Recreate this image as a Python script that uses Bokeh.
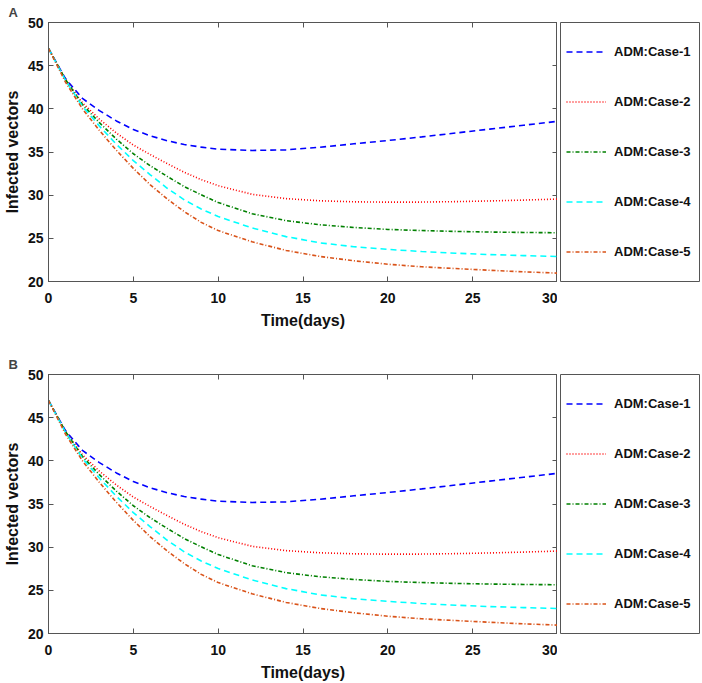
from bokeh.plotting import figure
from bokeh.layouts import column, row
from bokeh.models import (Legend, LegendItem, LinearAxis, Range1d, FixedTicker,
                          CustomJSTickFormatter)
from bokeh.embed import file_html
from bokeh.resources import INLINE

# ---- data ----
t = [0, 1, 2, 3, 4, 5, 6, 7, 8, 9, 10, 12, 14, 16, 18, 20, 22, 24, 26, 28, 30]
case1 = [47.0, 43.5, 41.2, 39.8, 38.6, 37.6, 36.88, 36.3, 35.87, 35.56, 35.33, 35.18,
         35.25, 35.55, 35.95, 36.33, 36.75, 37.2, 37.65, 38.1, 38.55]
case2 = [47.0, 43.4, 40.7, 38.8, 37.2, 35.8, 34.7, 33.65, 32.65, 31.8, 31.1, 30.1,
         29.6, 29.35, 29.23, 29.19, 29.2, 29.25, 29.33, 29.43, 29.55]
case3 = [47.0, 43.4, 40.5, 38.4, 36.5, 34.8, 33.4, 32.17, 31.0, 30.04, 29.15, 27.85,
         27.05, 26.57, 26.26, 26.03, 25.9, 25.8, 25.73, 25.68, 25.65]
case4 = [47.0, 43.3, 40.3, 38.0, 35.9, 34.0, 32.36, 30.8, 29.46, 28.4, 27.53, 26.2,
         25.2, 24.48, 24.03, 23.72, 23.47, 23.28, 23.12, 23.0, 22.9]
case5 = [47.0, 43.1, 40.0, 37.5, 35.2, 33.1, 31.2, 29.55, 28.1, 26.85, 25.9, 24.6,
         23.6, 22.9, 22.4, 22.0, 21.7, 21.5, 21.3, 21.12, 20.97]
series = [case1, case2, case3, case4, case5]
labels = ["ADM:Case-1", "ADM:Case-2", "ADM:Case-3", "ADM:Case-4", "ADM:Case-5"]
x_ticks = [0, 5, 10, 15, 20, 25, 30]
y_ticks = [20, 25, 30, 35, 40, 45, 50]
panels = ["A", "B"]

colors = ["#0000FF", "#FF0000", "#008000", "#00FFFF", "#D95319"]
dashes = ["6 4", "1 2", "4 2 1 2", "6 4", "4 2 1 2"]

FONT = "Liberation Sans"
FRAME = "#555555"
FW, FH = 509, 259


def style_axis(ax, ticks, show_labels=True):
    ax.ticker = FixedTicker(ticks=ticks)
    ax.axis_line_color = FRAME
    ax.major_tick_line_color = FRAME
    ax.major_tick_in = 5
    ax.major_tick_out = 0
    ax.minor_tick_line_color = None
    ax.major_label_text_font = FONT
    ax.major_label_text_font_style = "bold"
    ax.major_label_text_font_size = "14px"
    ax.major_label_text_color = "#111111"
    ax.axis_label_text_font = FONT
    ax.axis_label_text_font_style = "bold"
    ax.axis_label_text_font_size = "16px"
    ax.axis_label_text_color = "#111111"
    if not show_labels:
        ax.formatter = CustomJSTickFormatter(code="return ''")
        ax.major_label_standoff = 0


def make_panel(letter, top_border):
    p = figure(frame_width=FW, frame_height=FH,
               x_range=Range1d(0, 30), y_range=Range1d(20, 50),
               output_backend="svg", toolbar_location=None,
               min_border_left=0, min_border_right=0,
               min_border_top=top_border, min_border_bottom=49)
    p.xgrid.visible = False
    p.ygrid.visible = False
    p.outline_line_color = FRAME
    p.background_fill_color = "white"
    p.border_fill_color = "white"

    p.title.text = letter
    p.title.align = "left"
    p.title.offset = -40
    p.title.text_font = FONT
    p.title.text_font_style = "bold"
    p.title.text_font_size = "13px"
    p.title.standoff = 5

    style_axis(p.xaxis[0], x_ticks)
    style_axis(p.yaxis[0], y_ticks)
    p.xaxis[0].axis_label = "Time(days)"
    p.yaxis[0].axis_label = "Infected vectors"
    p.xaxis[0].major_label_standoff = 11
    p.xaxis[0].axis_label_standoff = 6
    p.yaxis[0].major_label_standoff = 5
    p.yaxis[0].axis_label_standoff = 4

    top = LinearAxis()
    style_axis(top, x_ticks, show_labels=False)
    p.add_layout(top, "above")
    right = LinearAxis()
    style_axis(right, y_ticks, show_labels=False)
    p.add_layout(right, "right")

    for ys, c, d in zip(series, colors, dashes):
        p.line(t, ys, line_color=c, line_width=1.6, line_dash=d)
    return p


def make_legend(top_border):
    # separate box holding the legend; the series lie outside its ranges
    lf = figure(frame_width=140, frame_height=FH,
                x_range=Range1d(-2, -1), y_range=Range1d(20, 50),
                output_backend="svg", toolbar_location=None,
                min_border_left=3, min_border_right=0,
                min_border_top=top_border, min_border_bottom=49)
    lf.xaxis.visible = False
    lf.yaxis.visible = False
    lf.xgrid.visible = False
    lf.ygrid.visible = False
    lf.outline_line_color = FRAME
    lf.background_fill_color = "white"
    lf.border_fill_color = "white"
    items = []
    for ys, lab, c, d in zip(series, labels, colors, dashes):
        r = lf.line(t, ys, line_color=c, line_width=1.6, line_dash=d)
        items.append(LegendItem(label=lab, renderers=[r]))
    leg = Legend(items=items, location="top_left", margin=0, padding=6,
                 spacing=3, glyph_width=40, glyph_height=47, label_height=47,
                 label_standoff=8, label_text_font=FONT,
                 label_text_font_style="bold", label_text_font_size="13px",
                 label_text_color="#111111",
                 border_line_color="white", border_line_alpha=0,
                 background_fill_alpha=0)
    lf.add_layout(leg, "center")
    return lf


pa = make_panel(panels[0], 15)
la = make_legend(15)
pb = make_panel(panels[1], 43)
lb = make_legend(43)
layout = column(row(pa, la, spacing=0), row(pb, lb, spacing=0), spacing=0)

open("out.html", "w").write(file_html(layout, INLINE))
